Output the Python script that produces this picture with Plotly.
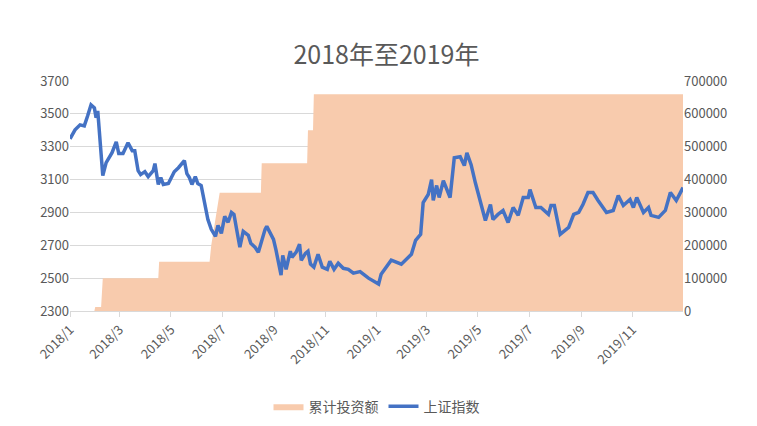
import plotly.graph_objects as go
import pandas as pd

start = pd.Timestamp("2018-01-01")

# 上证指数: days since 2018-01-01, index value
idx_days = [0,6,12,17,21,25,29,31,33,39,43,50,55,58,63,69,74,77,81,84,89,93,99,101,105,108,111,117,124,129,136,139,142,145,149,152,156,161,164,168,173,176,180,184,188,192,195,199,202,206,212,215,220,224,227,232,234,238,242,245,248,251,253,257,262,264,269,273,275,280,283,286,290,295,300,306,309,314,319,325,331,337,345,355,367,370,382,394,406,411,417,420,426,430,432,436,439,444,452,457,464,469,472,477,482,491,494,500,503,509,515,521,527,533,539,545,547,554,560,569,572,576,583,593,599,605,610,616,622,628,638,646,652,658,666,670,674,682,688,691,700,708,714,721,729]
idx_vals = [3348,3403,3433,3427,3488,3555,3536,3476,3518,3124,3203,3264,3330,3258,3258,3324,3276,3276,3154,3130,3148,3118,3154,3197,3070,3112,3070,3076,3148,3172,3215,3136,3112,3070,3118,3076,3064,2942,2857,2797,2755,2821,2773,2876,2840,2900,2888,2773,2688,2785,2761,2712,2688,2658,2712,2797,2815,2779,2736,2670,2585,2518,2639,2554,2664,2627,2658,2706,2609,2651,2664,2585,2567,2645,2567,2554,2603,2554,2591,2560,2554,2530,2540,2500,2464,2524,2609,2585,2645,2730,2767,2960,3009,3100,2973,3064,2991,3094,2991,3233,3239,3185,3263,3191,3082,2900,2851,2948,2857,2888,2912,2839,2930,2882,2991,2991,3039,2930,2930,2888,2942,2942,2767,2809,2888,2900,2948,3021,3021,2973,2900,2912,3003,2942,2979,2930,2991,2900,2930,2882,2870,2912,3021,2973,3051]

# 累计投资额: days since 2018-01-01, cumulative amount
inv_days = [0,29,30,37,39,105,106,166,168,178,227,228,282,283,289,290,729]
inv_vals = [0,0,12000,12000,100000,100000,150000,150000,200000,360000,360000,450000,450000,550000,550000,660000,660000]

to_dates = lambda d: [start + pd.Timedelta(days=x) for x in d]

fig = go.Figure()
fig.add_trace(go.Scatter(x=to_dates(inv_days), y=inv_vals, name="累计投资额", mode="lines",
                         line=dict(width=0, color="#F8CBAD"), fill="tozeroy",
                         fillcolor="#F8CBAD", yaxis="y"))
fig.add_trace(go.Scatter(x=to_dates(idx_days), y=idx_vals, name="上证指数", mode="lines",
                         line=dict(width=3.5, color="#4472C4"), yaxis="y2"))

tick_vals = pd.date_range("2018-01-01", "2019-11-01", freq="2MS")
fig.update_layout(
    width=757, height=426,
    margin=dict(l=62, r=82, t=73, b=122),
    paper_bgcolor="white", plot_bgcolor="white",
    font=dict(family="Noto Sans CJK SC, sans-serif", color="#595959", size=13),
    title=dict(text="2018年至2019年", x=0.5, xanchor="center", y=0.91,
               font=dict(size=25, color="#595959")),
    xaxis=dict(type="date", range=["2018-01-01", "2019-12-31"], tickvals=tick_vals,
               tickformat="%Y/%-m", tickangle=-45, showgrid=False, automargin=False,
               showline=True, linecolor="#D9D9D9", ticks="outside", tickcolor="#D9D9D9", ticklen=5),
    yaxis=dict(side="right", range=[0, 700000], tick0=0, dtick=100000, showgrid=True,
               gridcolor="#D9D9D9", zeroline=False, tickformat="d", automargin=False),
    yaxis2=dict(side="left", overlaying="y", range=[2300, 3700], tick0=2300, dtick=200,
                showgrid=False, zeroline=False, automargin=False),
    legend=dict(orientation="h", x=0.5, xanchor="center", y=-0.41, yanchor="middle",
                font=dict(size=14, color="#595959"), traceorder="normal"),
    showlegend=True,
)
fig.write_html("out.html")
